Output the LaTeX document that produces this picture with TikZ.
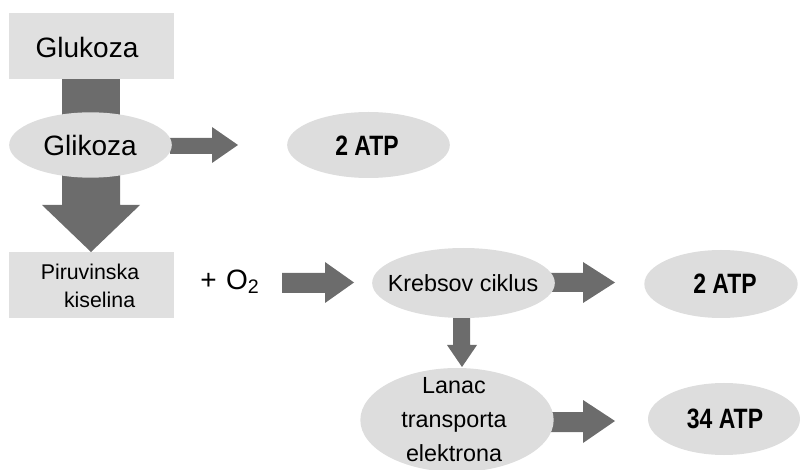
\documentclass[tikz,border=0pt]{standalone}
\usepackage{fontspec}
\setmainfont{Liberation Sans}
\usepackage{graphicx}
\usetikzlibrary{shapes.geometric}
\definecolor{boxgray}{RGB}{224,224,224}
\definecolor{ellgray}{RGB}{221,221,221}
\definecolor{arrgray}{RGB}{108,108,108}
\newcommand{\atplabel}[1]{\scalebox{0.82}[1]{\bfseries\fontsize{21}{24}\selectfont #1}}
\tikzset{
  boxnode/.style={fill=boxgray,draw=none,minimum width=123.75pt,minimum height=49.5pt,inner sep=0pt},
  ellnode/.style={ellipse,fill=ellgray,draw=none,inner sep=0pt},
  arr/.style={fill=arrgray,draw=none},
  bigtxt/.style={font=\fontsize{21}{25}\selectfont},
  midtxt/.style={font=\fontsize{17.5}{25.5}\selectfont,align=center},
  smalltxt/.style={font=\fontsize{16}{21}\selectfont,align=center}
}
\begin{document}
\begin{tikzpicture}[x=0.75pt,y=-0.75pt]
\useasboundingbox (0,0) rectangle (800,470);
% arrows (behind shapes)
\fill[arr] (62,75) rectangle (120,120);
\fill[arr] (62,170) -- (120,170) -- (120,205) -- (140,205) -- (91,252) -- (42,205) -- (62,205) -- cycle;
\fill[arr] (170,138) -- (212,138) -- (212,127) -- (238,145) -- (212,163) -- (212,154) -- (170,154) -- cycle;
\fill[arr] (282,273) -- (325,273) -- (325,262) -- (354,282.5) -- (325,303) -- (325,293) -- (282,293) -- cycle;
\fill[arr] (548,273) -- (583,273) -- (583,262) -- (615,282.5) -- (583,303) -- (583,292) -- (548,292) -- cycle;
\fill[arr] (453,312) -- (470,312) -- (470,345) -- (477,345) -- (462,367) -- (447,345) -- (453,345) -- cycle;
\fill[arr] (545,412) -- (583,412) -- (583,400) -- (615,421) -- (583,443) -- (583,432) -- (545,432) -- cycle;
% shapes
\node[boxnode] (glukoza) at (91.5,46) {};
\node[bigtxt] at (87,47) {Glukoza};
\node[ellnode,minimum width=122pt,minimum height=49pt] (glikoza) at (90.5,145) {};
\node[bigtxt] at (90,145) {Glikoza};
\node[ellnode,minimum width=122pt,minimum height=49.5pt] (atpA) at (368.5,145) {};
\node at (367,146) {\atplabel{2 ATP}};
\node[boxnode] (piruv) at (91.5,285) {};
\node[smalltxt] at (90,286) {Piruvinska\\\hspace*{0.9em}kiselina};
\node[font=\fontsize{21}{24}\selectfont] (o2) at (230,282) {+\,\,O\textsubscript{2}};
\node[ellnode,minimum width=137pt,minimum height=52.5pt] (krebs) at (463.5,283) {};
\node[midtxt] at (463,283) {Krebsov ciklus};
\node[ellnode,minimum width=115pt,minimum height=51pt] (atpB) at (721,284) {};
\node at (725,284) {\atplabel{2 ATP}};
\node[ellnode,minimum width=145pt,minimum height=78pt] (lanac) at (457,420) {};
\node[midtxt] at (454,420) {Lanac\\transporta\\elektrona};
\node[ellnode,minimum width=114pt,minimum height=54pt] (atpC) at (724,419) {};
\node at (725,419) {\atplabel{34 ATP}};
\end{tikzpicture}
\end{document}
